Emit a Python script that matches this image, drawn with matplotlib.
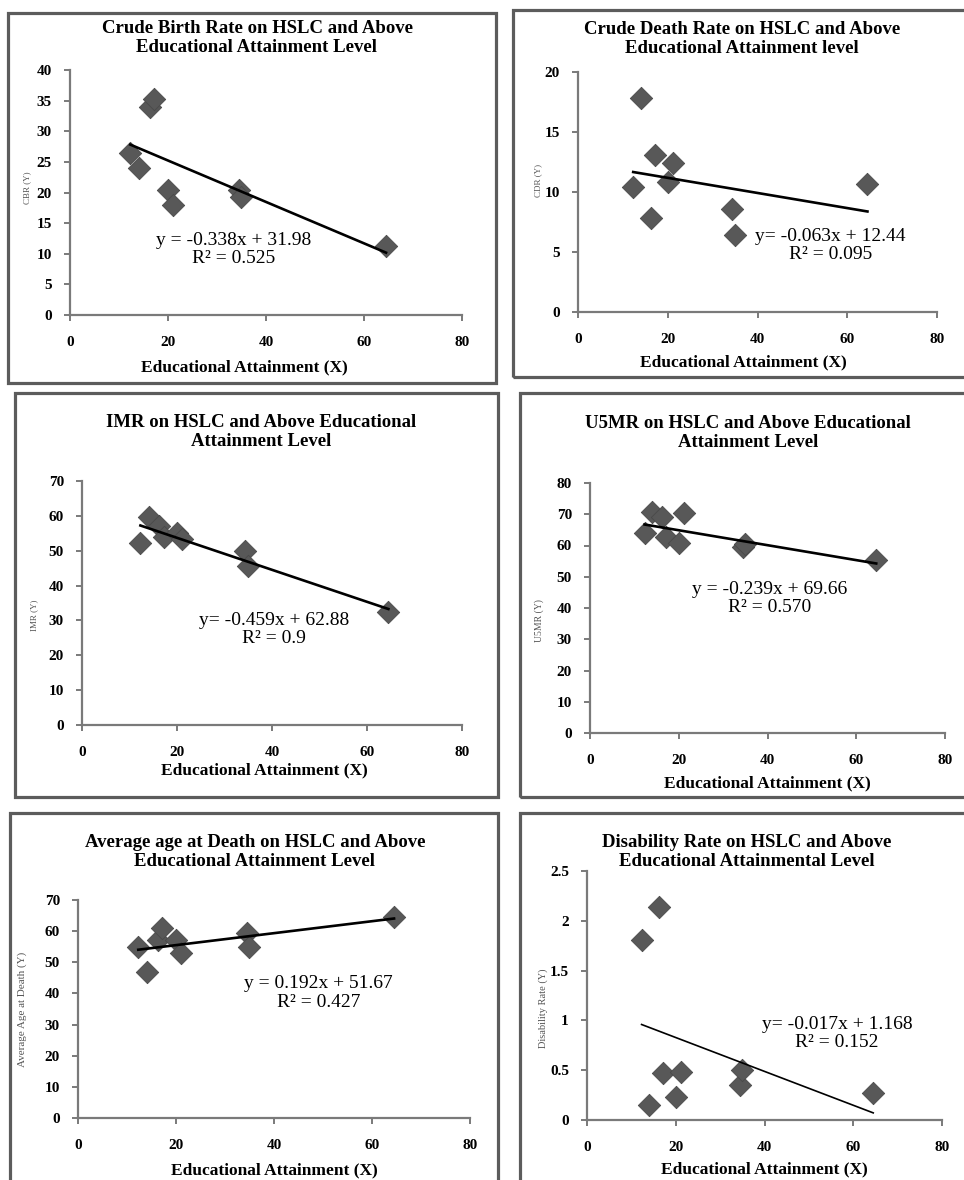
import numpy as np
import matplotlib
matplotlib.use("Agg")
from matplotlib import pyplot as plt
from matplotlib.patches import Rectangle

plt.rcParams['font.family'] = ['Liberation Serif', 'DejaVu Serif']

# educational attainment (HSLC and above, %) - same districts in every panel
x_att = [12.3, 14.0, 16.3, 17.2, 20.1, 21.1, 34.4, 34.9, 64.5]

# y values
cbr = [26.4, 24.0, 34.0, 35.3, 20.4, 17.9, 20.4, 19.3, 11.3]
cdr = [10.4, 17.8, 7.8, 13.1, 10.8, 12.4, 8.6, 6.4, 10.7]
imr = [52.1, 59.8, 57.0, 53.8, 55.0, 53.3, 50.0, 45.5, 32.5]
u5mr = [63.9, 70.8, 69.2, 62.8, 60.7, 70.3, 59.6, 60.4, 55.4]
age_death = [55.0, 47.0, 57.2, 60.9, 57.2, 53.1, 59.3, 54.8, 64.4]
disab = [1.81, 0.15, 2.14, 0.475, 0.23, 0.485, 0.35, 0.50, 0.27]

titles = ["Crude Birth Rate on HSLC and Above\nEducational Attainment Level",
          "Crude Death Rate on HSLC and Above\nEducational Attainment level",
          "IMR on HSLC and Above Educational\nAttainment Level",
          "U5MR on HSLC and Above Educational\nAttainment Level",
          "Average age at Death on HSLC and Above\nEducational Attainment Level",
          "Disability Rate on HSLC and Above\nEducational Attainmental Level"]
ylabels = ["CBR (Y)", "CDR (Y)", "IMR (Y)", "U5MR (Y)",
           "Average Age at Death (Y)", "Disability Rate (Y)"]
slopes = [-0.338, -0.063, -0.459, -0.239, 0.192, -0.017]
intercepts = [31.98, 12.44, 62.88, 69.66, 51.67, 1.168]
eq_text = ["y = -0.338x + 31.98\nR² = 0.525",
           "y= -0.063x + 12.44\nR² = 0.095",
           "y= -0.459x + 62.88\nR² = 0.9",
           "y = -0.239x + 69.66\nR² = 0.570",
           "y = 0.192x + 51.67\nR² = 0.427",
           "y= -0.017x + 1.168\nR² = 0.152"]
ymax = [40, 20, 70, 80, 70, 2.5]
ystep = [5, 5, 10, 10, 10, 0.5]
series = [cbr, cdr, imr, u5mr, age_death, disab]

W, H = 964, 1180
fig = plt.figure(figsize=(W / 100, H / 100), dpi=100)

def px_rect(x0, y0, x1, y1):
    return [x0 / W, 1 - y1 / H, (x1 - x0) / W, (y1 - y0) / H]

# pixel layout: panel box, axes box, title centre, equation position, label pos
boxes = [(8, 13, 496, 383), (513, 10, 972, 377), (15, 393, 498, 797),
         (520, 393, 972, 797), (10, 813, 498, 1192), (520, 813, 972, 1192)]
axboxes = [(70, 70, 462, 315), (578, 72, 937, 312), (82, 481, 462, 725),
           (590, 483, 945, 733), (78, 900, 470, 1118), (587, 871, 942, 1120)]
title_pos = [(257, 38), (742, 39), (261, 432), (748, 433), (255, 852), (747, 852)]
eq_pos = [(33.3, 10.7), (56.2, 5.55), (40.5, 27.3), (40.4, 43.1), (49.1, 40.1), (56.3, 0.865)]
ylab_pos = [(-0.10, 0.52), (-0.10, 0.55), (-0.115, 0.45), (-0.13, 0.45), (-0.13, 0.50), (-0.11, 0.45)]
xlab_pos = [(0.444, -0.212), (0.462, -0.212), (0.479, -0.184), (0.5, -0.20), (0.5, -0.239), (0.5, -0.20)]
ylab_size = [6.5, 6.5, 6.5, 7, 8, 7.5]

for i in range(6):
    bx = boxes[i]
    fig.patches.append(Rectangle((bx[0] / W, 1 - bx[3] / H), (bx[2] - bx[0]) / W,
                                 (bx[3] - bx[1]) / H, transform=fig.transFigure,
                                 fill=False, edgecolor='#5c5c5c', linewidth=2.3))
    ax = fig.add_axes(px_rect(*axboxes[i]))
    ax.scatter(x_att, series[i], marker='D', s=130, color='#585858',
               edgecolors='#4a4a4a', linewidths=0.6, zorder=3)
    xl = np.array([min(x_att), max(x_att)])
    ax.plot(xl, slopes[i] * xl + intercepts[i], color='black',
            linewidth=1.2 if i == 5 else 1.9, zorder=4)
    ax.set_xlim(0, 80)
    ax.set_ylim(0, ymax[i])
    ax.set_xticks(np.arange(0, 81, 20))
    ax.set_yticks(np.arange(0, ymax[i] + ystep[i] / 2, ystep[i]))
    ax.yaxis.set_major_formatter(matplotlib.ticker.FormatStrFormatter('%g'))
    for s in ['top', 'right']:
        ax.spines[s].set_visible(False)
    for s in ['left', 'bottom']:
        ax.spines[s].set_color('#7a7a7a')
        ax.spines[s].set_linewidth(1.6)
    ax.tick_params(direction='out', length=4, width=1.4, color='#7a7a7a',
                   labelsize=11, pad=11)
    ax.tick_params(axis='y', pad=9)
    for lab in ax.get_xticklabels() + ax.get_yticklabels():
        lab.set_fontweight('bold')
    ax.set_xlabel("Educational Attainment (X)", fontsize=12.5, fontweight='bold',
                  va='center')
    ax.xaxis.set_label_coords(*xlab_pos[i])
    ax.set_ylabel(ylabels[i], fontsize=ylab_size[i], color='#555555')
    ax.yaxis.set_label_coords(*ylab_pos[i])
    ax.text(eq_pos[i][0], eq_pos[i][1], eq_text[i], ha='center', va='center',
            fontsize=14, linespacing=1.1, zorder=5)
    fig.text(title_pos[i][0] / W, 1 - title_pos[i][1] / H, titles[i],
             ha='center', va='center', fontsize=13.5, fontweight='bold',
             linespacing=1.15)

fig.savefig("out.png", dpi=100)
